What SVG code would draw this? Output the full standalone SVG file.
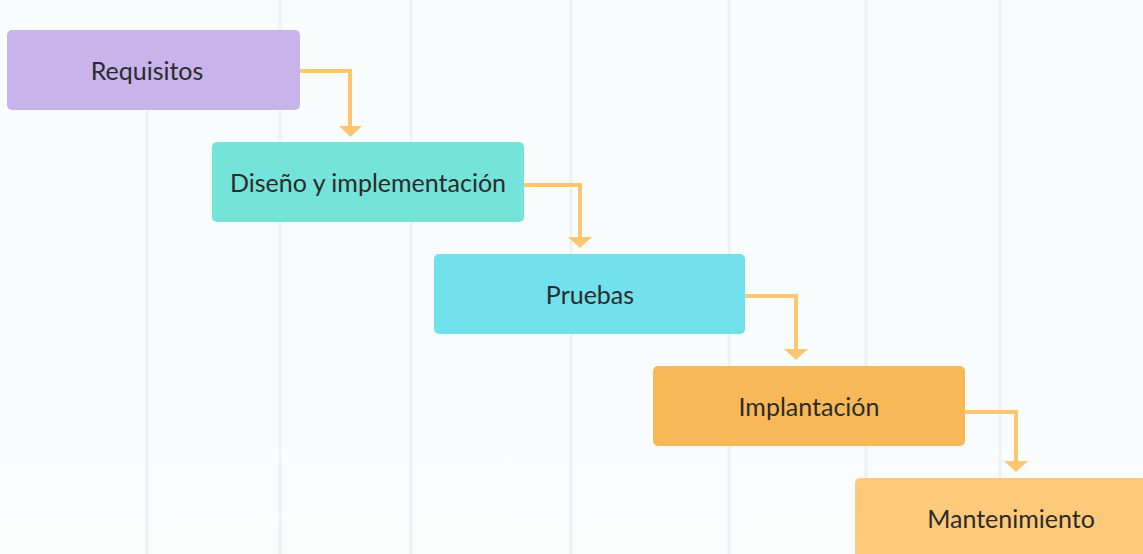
<svg xmlns="http://www.w3.org/2000/svg" width="1143" height="554" viewBox="0 0 1143 554">
<style>
.grid{stroke:#eff0f2;stroke-width:3}
.lbl{font-family:Lato,"Liberation Sans",sans-serif;font-size:25px;fill:#2b2b2b;text-anchor:middle;dominant-baseline:central}
.conn{fill:none;stroke:#ffc670;stroke-width:4}
.head{fill:#ffc670}
</style>
<defs>
<linearGradient id="bg" x1="0" y1="0" x2="0" y2="1">
<stop offset="0" stop-color="#f8fcfd"/>
<stop offset="0.8" stop-color="#f9fcfd"/>
<stop offset="1" stop-color="#fbfcfc"/>
</linearGradient>
</defs>
<rect x="0" y="0" width="1143" height="554" fill="url(#bg)"/>
<g id="grid">
<line class="grid" x1="147" y1="110" x2="147" y2="554"/>
<line class="grid" x1="280" y1="0" x2="280" y2="554"/>
<line class="grid" x1="411" y1="0" x2="411" y2="554"/>
<line class="grid" x1="571" y1="0" x2="571" y2="554"/>
<line class="grid" x1="729" y1="0" x2="729" y2="554"/>
<line class="grid" x1="866" y1="0" x2="866" y2="554"/>
<line class="grid" x1="1000" y1="0" x2="1000" y2="554"/>
</g>
<g id="connectors">
<polyline class="conn" points="300,71 350,71 350,127"/>
<polygon class="head" points="339,126 362,126 350.5,137"/>
<polyline class="conn" points="524,185 580,185 580,238"/>
<polygon class="head" points="568,237 592,237 580,248"/>
<polyline class="conn" points="745,296 796,296 796,350"/>
<polygon class="head" points="784,349 808,349 796,360"/>
<polyline class="conn" points="965,412 1016,412 1016,462"/>
<polygon class="head" points="1004,461 1028,461 1016,472"/>
</g>
<g id="requisitos">
<rect x="7" y="30" width="293" height="80" rx="5" fill="#c8b3ea"/>
<text class="lbl" x="147" y="70">Requisitos</text>
</g>
<g id="diseno">
<rect x="212" y="142" width="312" height="80" rx="5" fill="#74e3d9"/>
<text class="lbl" x="368" y="182">Diseño y implementación</text>
</g>
<g id="pruebas">
<rect x="434" y="254" width="311" height="80" rx="5" fill="#70e1ed"/>
<text class="lbl" x="590" y="294">Pruebas</text>
</g>
<g id="implantacion">
<rect x="653" y="366" width="312" height="80" rx="5" fill="#f8b857"/>
<text class="lbl" x="809" y="406">Implantación</text>
</g>
<g id="mantenimiento">
<rect x="855" y="478" width="300" height="90" rx="5" fill="#fec97b"/>
<text class="lbl" x="1011" y="518">Mantenimiento</text>
</g>
</svg>
